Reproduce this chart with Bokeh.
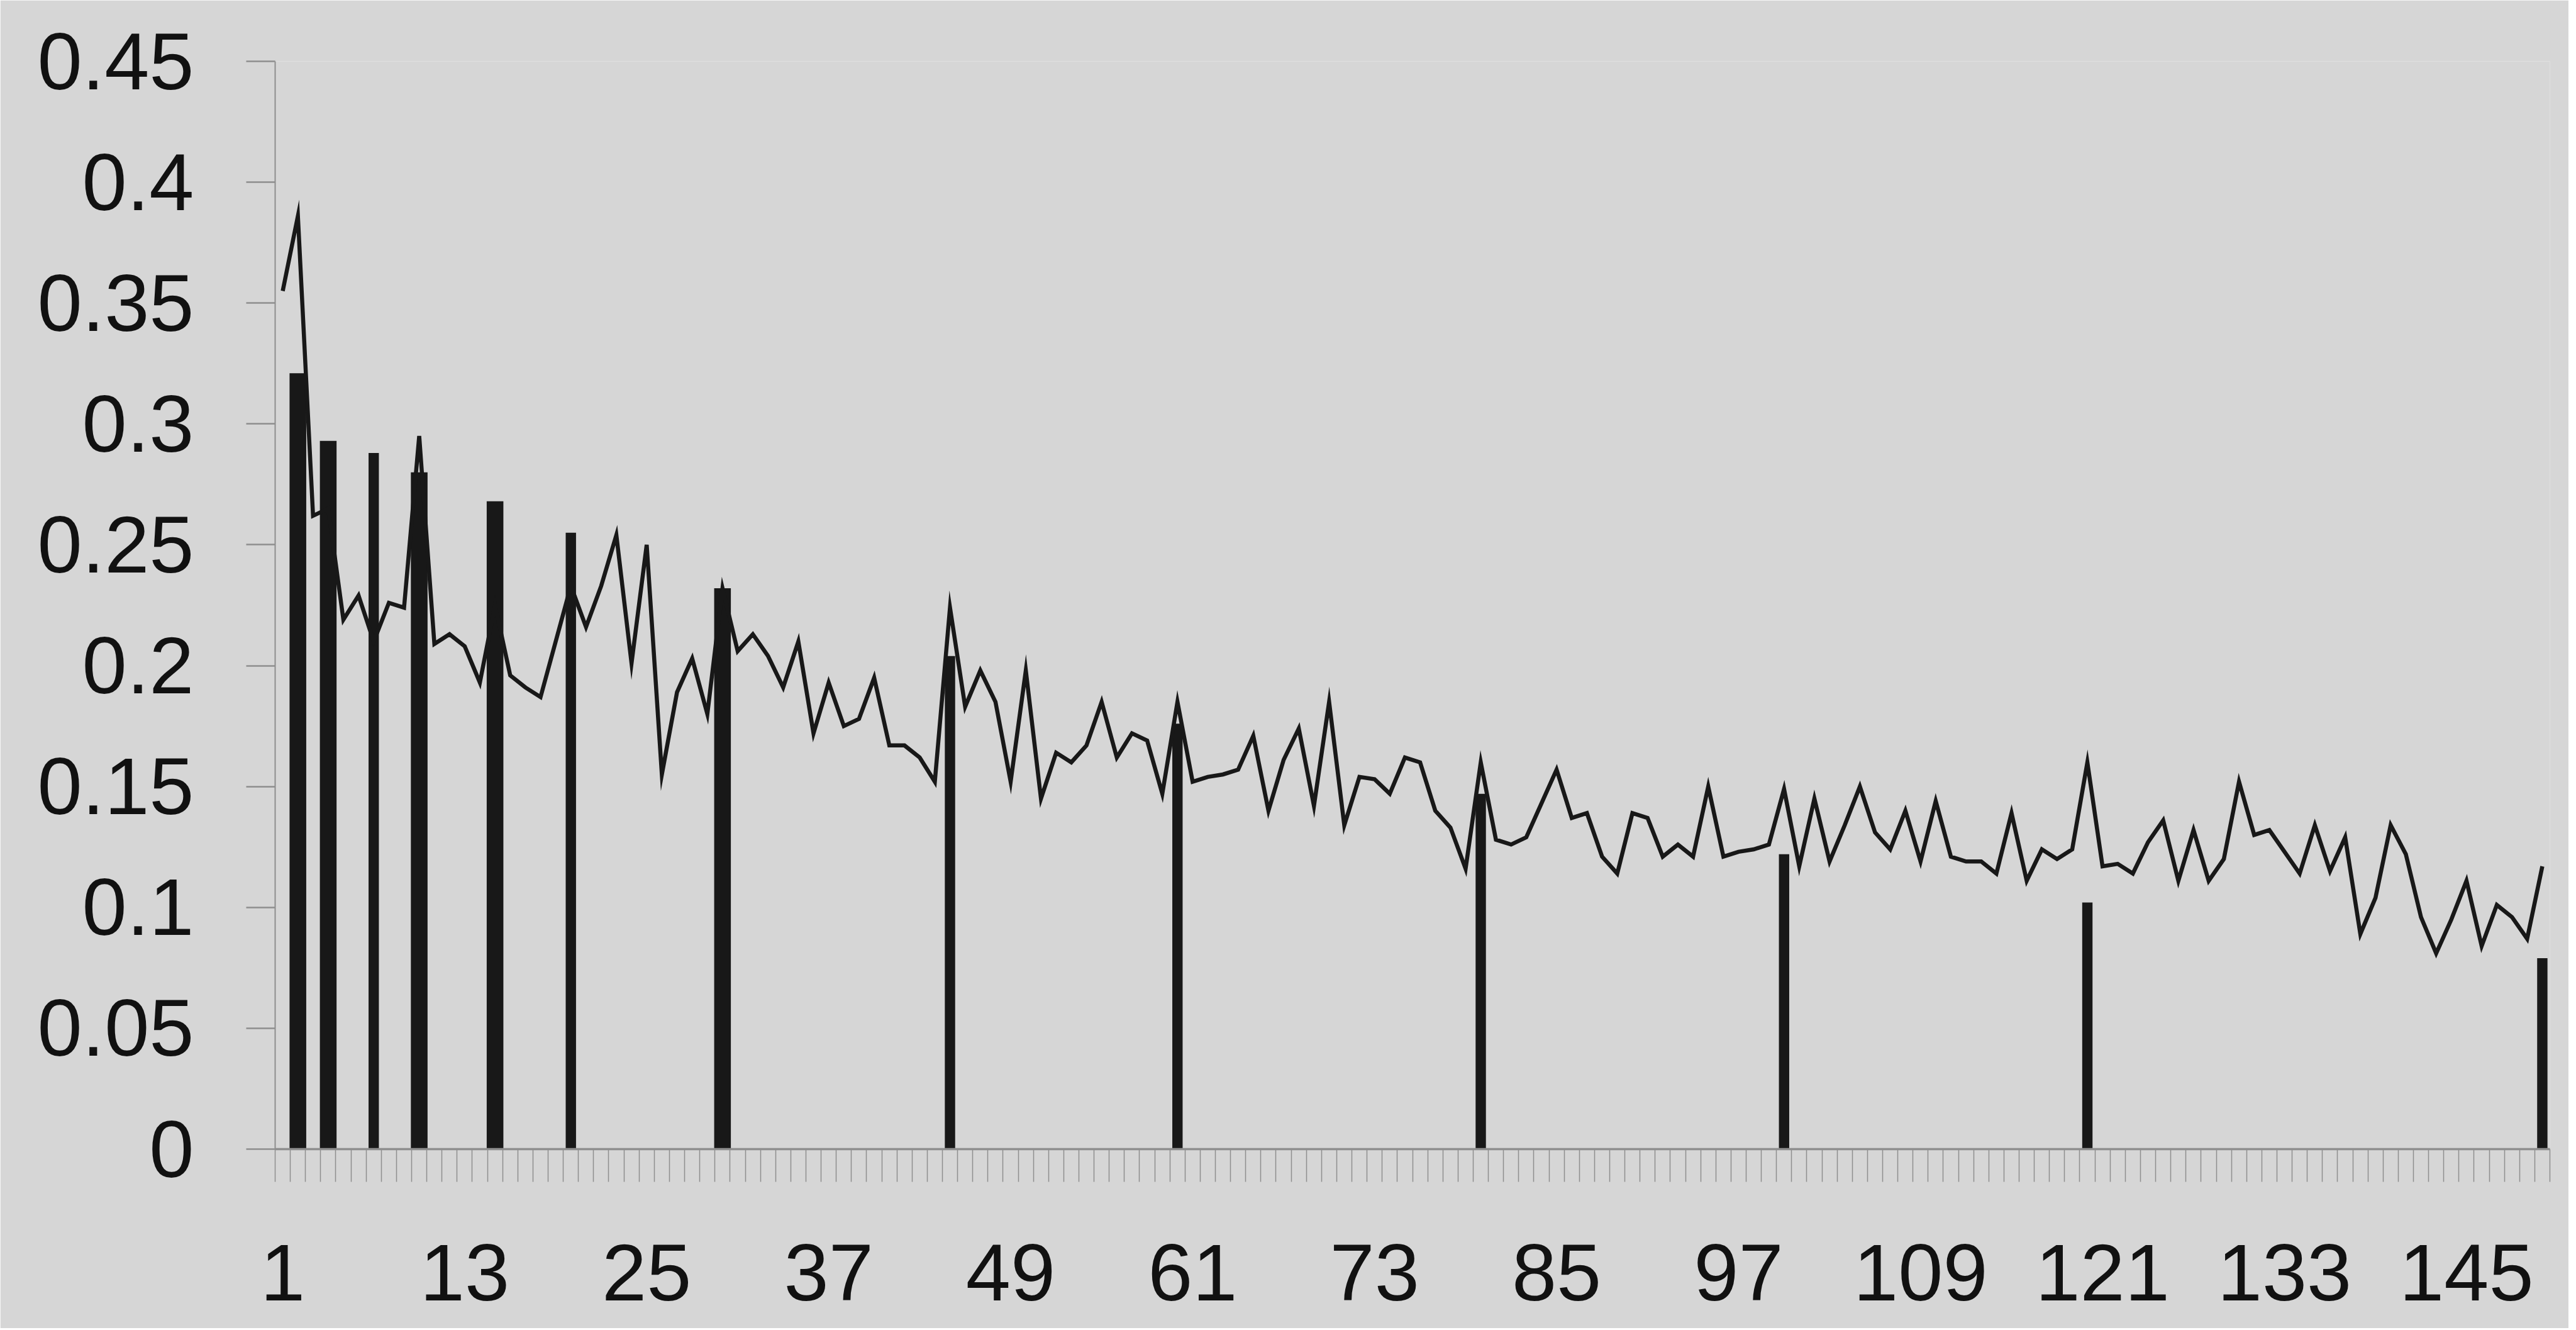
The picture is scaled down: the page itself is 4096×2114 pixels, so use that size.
from bokeh.plotting import figure
from bokeh.models import Range1d, FixedTicker, NumeralTickFormatter, ColumnDataSource
from bokeh.embed import file_html
from bokeh.resources import INLINE

# ---------------- data ----------------
categories = list(range(1, 151))
line_values = [
    0.355, 0.386, 0.262, 0.265, 0.219, 0.229, 0.210, 0.226, 0.224, 0.295,
    0.209, 0.213, 0.208, 0.193, 0.225, 0.196, 0.191, 0.187, 0.210, 0.233,
    0.216, 0.233, 0.254, 0.201, 0.250, 0.155, 0.189, 0.203, 0.180, 0.232,
    0.206, 0.213, 0.204, 0.191, 0.210, 0.172, 0.193, 0.175, 0.178, 0.195,
    0.167, 0.167, 0.162, 0.152, 0.224, 0.183, 0.198, 0.185, 0.152, 0.198,
    0.145, 0.164, 0.160, 0.167, 0.185, 0.162, 0.172, 0.169, 0.147, 0.185,
    0.152, 0.154, 0.155, 0.157, 0.171, 0.140, 0.161, 0.174, 0.142, 0.185,
    0.134, 0.154, 0.153, 0.147, 0.162, 0.160, 0.140, 0.133, 0.116, 0.160,
    0.128, 0.126, 0.129, 0.143, 0.157, 0.137, 0.139, 0.121, 0.114, 0.139,
    0.137, 0.121, 0.126, 0.121, 0.150, 0.121, 0.123, 0.124, 0.126, 0.149,
    0.117, 0.145, 0.119, 0.134, 0.150, 0.131, 0.124, 0.140, 0.119, 0.144,
    0.121, 0.119, 0.119, 0.114, 0.139, 0.111, 0.124, 0.120, 0.124, 0.160,
    0.117, 0.118, 0.114, 0.127, 0.136, 0.111, 0.132, 0.111, 0.120, 0.152,
    0.130, 0.132, 0.123, 0.114, 0.134, 0.115, 0.129, 0.089, 0.104, 0.134,
    0.122, 0.096, 0.081, 0.095, 0.111, 0.084, 0.101, 0.096, 0.087, 0.117,
]
bar_categories = [2, 4, 7, 10, 15, 20, 30, 45, 60, 80, 100, 120, 150]
bar_values = [0.321, 0.293, 0.288, 0.280, 0.268, 0.255, 0.232, 0.204,
              0.176, 0.147, 0.122, 0.102, 0.079]
x_tick_labels = [1, 13, 25, 37, 49, 61, 73, 85, 97, 109, 121, 133, 145]
y_ticks = [0, 0.05, 0.1, 0.15, 0.2, 0.25, 0.3, 0.35, 0.4, 0.45]

# ---------------- style ----------------
BG = "#d6d6d6"
INK = "#181818"
AXIS = "#8e8e8e"
FONT = "Liberation Sans"
FS = "128px"
wide_bars = (2, 4, 10, 15, 30)
bar_widths = [1.1 if c in wide_bars else 0.68 for c in bar_categories]

p = figure(
    frame_width=3617, frame_height=1729,
    x_range=Range1d(0.5, len(categories) + 0.5),
    y_range=Range1d(0, 0.45),
    output_backend="svg", toolbar_location=None,
    min_border_left=437, min_border_right=30,
    min_border_top=97, min_border_bottom=285,
    background_fill_color=BG, border_fill_color=BG,
    outline_line_color=None,
)
p.grid.visible = False

bars = ColumnDataSource(dict(x=bar_categories, top=bar_values, w=bar_widths))
p.vbar(x="x", top="top", bottom=0, width="w", source=bars,
       fill_color=INK, line_color=None)

line = ColumnDataSource(dict(x=categories, y=line_values))
p.line(x="x", y="y", source=line, line_color=INK, line_width=6.5,
       line_join="miter")

# x axis
xa = p.xaxis[0]
xa.ticker = FixedTicker(ticks=x_tick_labels,
                        minor_ticks=[c - 0.5 for c in categories] + [len(categories) + 0.5])
xa.major_tick_out = 0
xa.major_tick_in = 0
xa.minor_tick_out = 52
xa.minor_tick_in = 0
xa.minor_tick_line_color = AXIS
xa.minor_tick_line_width = 1.5
xa.axis_line_color = AXIS
xa.axis_line_width = 3.5
xa.major_label_standoff = 100
xa.major_label_text_font = FONT
xa.major_label_text_font_size = FS
xa.major_label_text_color = "#111111"

# y axis
ya = p.yaxis[0]
ya.ticker = FixedTicker(ticks=y_ticks)
ya.formatter = NumeralTickFormatter(format="0.[00]")
ya.major_tick_out = 46
ya.major_tick_in = 0
ya.minor_tick_out = 0
ya.minor_tick_in = 0
ya.major_tick_line_color = AXIS
ya.major_tick_line_width = 2.5
ya.axis_line_color = AXIS
ya.axis_line_width = 2
ya.major_label_standoff = 83
ya.major_label_text_font = FONT
ya.major_label_text_font_size = FS
ya.major_label_text_color = "#111111"

open("out.html", "w").write(file_html(p, INLINE))
